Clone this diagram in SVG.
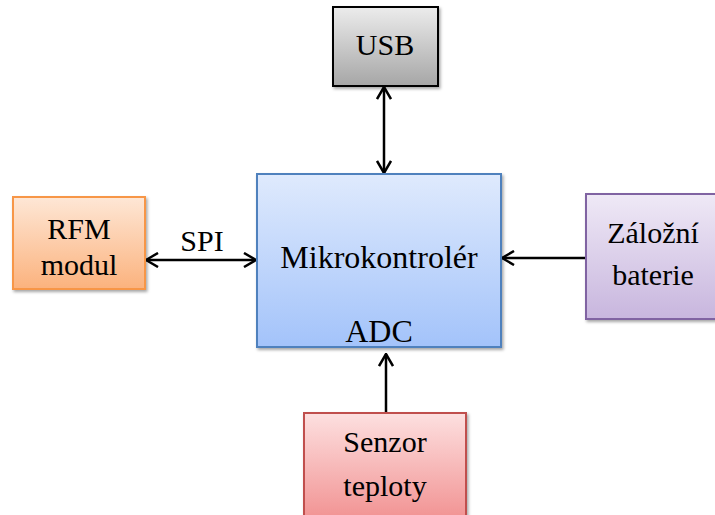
<svg xmlns="http://www.w3.org/2000/svg" width="715" height="515" viewBox="0 0 715 515">
<style>
.t{font-family:"Liberation Serif","Times New Roman",serif;font-size:32px;fill:#000;text-anchor:middle}
.c{stroke:#000;stroke-width:2.5;fill:none}
</style>
<defs>
<linearGradient id="gGray" x1="0" y1="0" x2="0" y2="1"><stop offset="0" stop-color="#ececec"/><stop offset="1" stop-color="#a6a6a6"/></linearGradient>
<linearGradient id="gBlue" x1="0" y1="0" x2="0" y2="1"><stop offset="0" stop-color="#dfeafd"/><stop offset="1" stop-color="#a3c3fa"/></linearGradient>
<linearGradient id="gOrange" x1="0" y1="0" x2="0" y2="1"><stop offset="0" stop-color="#fee7d6"/><stop offset="1" stop-color="#fbb27d"/></linearGradient>
<linearGradient id="gPurple" x1="0" y1="0" x2="0" y2="1"><stop offset="0" stop-color="#efe9f6"/><stop offset="1" stop-color="#c8b6de"/></linearGradient>
<linearGradient id="gRed" x1="0" y1="0" x2="0" y2="1"><stop offset="0" stop-color="#fde0e0"/><stop offset="1" stop-color="#f19090"/></linearGradient>
<filter id="sh" x="-10%" y="-10%" width="130%" height="130%"><feDropShadow dx="1.5" dy="2" stdDeviation="1.5" flood-color="#000" flood-opacity="0.35"/></filter>
<marker id="ah" viewBox="0 0 14 16" refX="13" refY="8" markerWidth="14" markerHeight="16" markerUnits="userSpaceOnUse" orient="auto-start-reverse"><path d="M1,1 L13,8 L1,15" fill="none" stroke="#000" stroke-width="2.5"/></marker>
</defs>
<g id="connectors">
<line class="c" x1="384" y1="87" x2="384" y2="173" marker-start="url(#ah)" marker-end="url(#ah)"/>
<line class="c" x1="146" y1="260" x2="256" y2="260" marker-start="url(#ah)" marker-end="url(#ah)"/>
<line class="c" x1="586" y1="258" x2="502" y2="258" marker-end="url(#ah)"/>
<line class="c" x1="386" y1="413" x2="386" y2="354" marker-end="url(#ah)"/>
<text class="t" x="202" y="251" style="font-size:30px">SPI</text>
</g>
<g id="usb">
<rect x="333" y="7" width="105" height="79" fill="url(#gGray)" stroke="#000" stroke-width="2" filter="url(#sh)"/>
<text class="t" x="385" y="55" style="font-size:30px">USB</text>
</g>
<g id="mcu">
<rect x="257" y="174" width="244" height="173" fill="url(#gBlue)" stroke="#4f81bd" stroke-width="2" filter="url(#sh)"/>
<text class="t" x="379" y="268">Mikrokontrolér</text>
<text class="t" x="379" y="342">ADC</text>
</g>
<g id="rfm">
<rect x="13" y="197" width="132" height="92" fill="url(#gOrange)" stroke="#f79646" stroke-width="2" filter="url(#sh)"/>
<text class="t" x="79" y="239" style="font-size:30px">RFM</text>
<text class="t" x="79" y="275" style="font-size:30px">modul</text>
</g>
<g id="baterie">
<rect x="586" y="194" width="135" height="125" fill="url(#gPurple)" stroke="#8064a2" stroke-width="2" filter="url(#sh)"/>
<text class="t" x="653" y="243" style="font-size:30px">Záložní</text>
<text class="t" x="653" y="285" style="font-size:30px">baterie</text>
</g>
<g id="senzor">
<rect x="304" y="413" width="162" height="110" fill="url(#gRed)" stroke="#c0504d" stroke-width="2" filter="url(#sh)"/>
<text class="t" x="385" y="452" style="font-size:30px">Senzor</text>
<text class="t" x="385" y="496" style="font-size:30px">teploty</text>
</g>
</svg>
